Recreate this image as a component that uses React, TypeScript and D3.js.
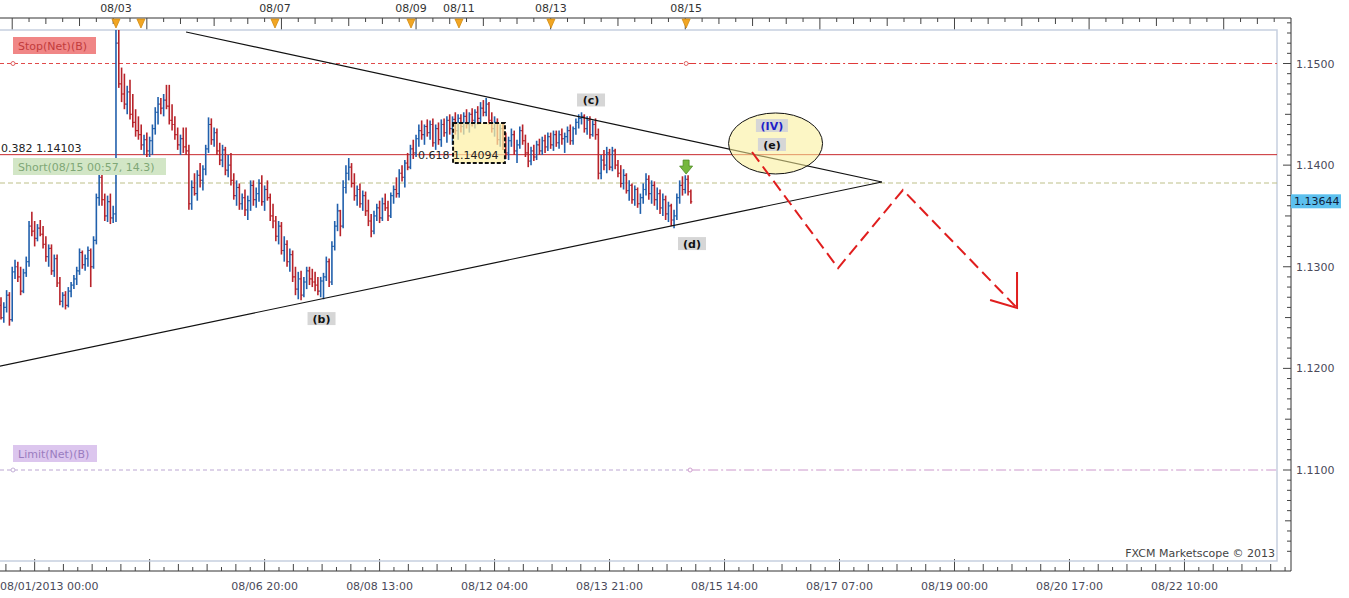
import React from 'react';
import * as d3 from 'd3';

// Prices are stored in pips above 1.1000 (e.g. 364 => 1.1364). One bar = one hour.
const opens = [
262,250,260,272,248,295,300,290,276,294,
305,340,335,328,338,332,322,310,318,296,
308,284,266,272,262,276,282,288,296,314,
302,308,316,300,326,368,388,366,350,364,
348,352,520,480,470,460,472,450,442,434,
430,420,425,414,424,436,452,460,456,464,
458,444,440,430,420,426,418,414,362,378,
372,390,385,396,416,440,425,432,414,405,
415,395,400,385,370,378,362,368,356,365,
380,366,372,382,364,376,368,350,345,330,
340,316,322,305,312,290,278,288,272,285,
296,288,285,282,276,286,290,305,285,320,
340,355,340,378,392,398,382,370,376,362,
370,355,345,335,350,358,348,362,358,350,
370,376,372,392,388,402,398,416,412,426,
434,430,438,432,440,422,436,425,440,432,
444,436,445,434,446,438,448,440,450,444,
452,446,456,452,460,444,436,442,425,436,
420,412,424,430,414,420,434,424,412,404,
414,408,420,414,424,418,428,420,430,422,
430,426,428,434,424,436,442,446,448,436,
444,430,440,430,392,405,400,412,398,414,
400,392,382,390,375,380,366,376,362,368,
376,386,372,380,366,372,358,366,352,360,
346,350,368,380,376,386,374];
const highs = [
270,265,277,275,300,307,305,300,298,310,
345,354,345,342,346,340,330,322,322,312,
312,290,275,276,280,285,292,300,318,316,
312,320,318,330,372,395,392,372,370,372,
360,533,533,496,490,478,484,470,455,448,
440,430,432,428,440,457,467,466,470,479,
479,460,448,437,430,437,437,420,385,392,
395,402,400,420,447,446,437,436,422,420,
418,410,412,392,385,382,372,376,370,385,
385,378,386,390,380,385,372,362,350,345,
344,330,326,318,316,300,295,296,290,300,
300,298,295,290,290,294,310,308,325,345,
362,356,385,400,407,402,392,380,382,375,
374,366,352,355,362,365,368,372,365,373,
380,388,396,400,405,412,420,425,430,440,
444,440,445,444,446,440,442,445,446,448,
450,448,452,450,450,452,455,452,456,455,
458,462,464,466,462,452,448,446,440,442,
432,428,436,434,425,438,440,430,422,418,
420,424,426,428,430,432,432,434,434,434,
436,432,438,440,438,446,450,452,450,448,
448,444,446,436,410,415,418,416,418,416,
405,400,396,392,385,382,380,378,372,382,
392,390,385,384,378,376,372,370,364,362,
356,372,385,389,390,390,376];
const lows = [
248,245,255,242,246,288,285,272,274,290,
300,330,320,325,330,318,305,300,292,290,
280,262,260,258,260,270,278,282,292,298,
296,300,280,298,322,360,360,345,344,342,
343,344,476,462,455,450,445,437,428,425,
415,410,408,408,410,430,440,450,448,455,
440,434,425,415,410,412,410,356,356,370,
365,378,375,390,412,420,418,410,400,398,
390,388,380,366,360,356,356,350,346,355,
360,358,364,360,355,365,345,338,325,322,
312,305,300,295,285,272,268,267,270,278,
282,280,276,272,270,268,286,280,282,316,
335,330,338,372,385,378,365,360,358,355,
350,340,329,332,345,343,345,355,345,348,
362,368,368,384,378,395,396,406,408,418,
425,420,428,425,418,415,420,418,428,422,
430,420,430,425,432,430,436,432,438,436,
440,442,448,448,440,432,428,420,418,415,
406,405,418,410,402,416,420,408,398,400,
404,405,410,410,412,414,416,414,418,416,
420,412,422,420,420,430,436,440,432,430,
426,428,425,386,386,395,392,395,394,396,
388,378,376,372,365,362,360,358,352,362,
370,366,362,360,356,352,350,346,344,340,
338,346,362,370,372,370,362];
const closes = [
250,260,272,248,295,300,290,276,294,305,
340,335,328,338,332,322,310,318,296,308,
284,266,272,262,276,282,288,296,314,302,
308,316,300,326,368,388,366,350,364,348,
352,520,480,470,460,472,450,442,434,430,
420,425,414,424,436,452,460,456,464,458,
444,440,430,420,426,418,414,362,378,372,
390,385,396,416,440,425,432,414,405,415,
395,400,385,370,378,362,368,356,365,380,
366,372,382,364,376,368,350,345,330,340,
316,322,305,312,290,278,288,272,285,296,
288,285,282,276,286,290,305,285,320,340,
355,340,378,392,398,382,370,376,362,370,
355,345,335,350,358,348,362,358,350,370,
376,372,392,388,402,398,416,412,426,434,
430,438,432,440,422,436,425,440,432,444,
436,445,434,446,438,448,440,450,444,452,
446,456,452,460,444,436,442,425,436,420,
412,424,430,414,420,434,424,412,404,414,
408,420,414,424,418,428,420,430,422,430,
426,428,434,424,436,442,446,448,436,444,
430,440,430,392,405,400,412,398,414,400,
392,382,390,375,380,366,376,362,368,376,
386,372,380,366,372,358,366,352,360,346,
350,368,380,376,386,374,364];

const lastPrice = 1.13644;

// Axis ticks / labels
const priceTicks = [1.11, 1.12, 1.13, 1.14, 1.15];
const bottomTickStart = 12;
const bottomTickStep = 41;
const bottomLabels = ['08/01/2013 00:00', '', '08/06 20:00', '08/08 13:00', '08/12 04:00', '08/13 21:00', '08/15 14:00', '08/17 07:00', '08/19 00:00', '08/20 17:00', '08/22 10:00'];
const eventIdx = [41, 49.9, 97.7, 146.2, 163.3, 196.1, 244.3];
const eventLabels = ['08/03', '', '08/07', '08/09', '08/11', '08/13', '08/15'];

// Levels
const stopLevel = 1.15;
const limitLevel = 1.11;
const fibLevel = 1.14103;
const shortLevel = 1.13824;

// Drawing tools (bar index, price)
const upperTrend = [[66, 1.1531], [314.1, 1.13834]];
const lowerTrend = [[-0.4, 1.12023], [314.1, 1.13834]];
const projection = [[267.8, 1.14129], [298.5, 1.12987], [321.6, 1.13755], [362.3, 1.12594]];
const arrowHead = [[362.3, 1.12948], [362.3, 1.12594], [352.7, 1.12672]];
const waveLabels = [
  { t: '(b)', i: 114.3, p: 1.12485, c: '#111' },
  { t: '(c)', i: 210.4, p: 1.14636, c: '#111' },
  { t: '(d)', i: 246.4, p: 1.13223, c: '#111' },
  { t: '(IV)', i: 274.9, p: 1.14385, c: '#1f1fc8' },
  { t: '(e)', i: 274.9, p: 1.14198, c: '#111' },
];
const ellipseCenter = [276.2, 1.14213];
const fibBox = [[161.2, 1.14414], [179.7, 1.14021]];
const fibText = { i: 148.7, p: 1.14094, t: '0.618 1.14094' };
const signalArrow = { i: 244.3, p: 1.13912 };

const FONT = 'DejaVu Sans, Verdana, sans-serif';
const BLUE = '#2160ac';
const RED = '#b8232a';

export default function App() {
  const x = d3.scaleLinear().domain([0, 455]).range([1, 1277]);
  const y = d3.scaleLinear().domain([1.11, 1.15]).range([470, 63.5]);
  const P = (v: number) => 1.1 + v / 10000;
  const n = Math.min(opens.length, highs.length, lows.length, closes.length);

  const plotL = 0, plotR = 1277, plotT = 30, plotB = 561;
  const axisX = 1291, topAxisY = 18, botAxisY = 571;

  const line = d3.line<number[]>().x(d => x(d[0])).y(d => y(d[1]));

  const topTicks: { v: number; len: number }[] = [];
  for (let k = 4; k <= 455; k += 6) {
    const len = (k - 4) % 48 === 0 ? 12 : (k - 4) % 24 === 0 ? 8 : (k - 4) % 12 === 0 ? 6 : 4;
    topTicks.push({ v: k, len });
  }
  const botTicks: { v: number; len: number }[] = [];
  for (let k = -1; k <= 11; k++) {
    for (let j = 0; j < 8; j++) {
      const v = bottomTickStart + k * bottomTickStep + (j * bottomTickStep) / 8;
      if (v < 0 || x(v) > axisX) continue;
      botTicks.push({ v, len: j === 0 ? 12 : j % 2 === 0 ? 7 : 4 });
    }
  }
  const rightTicks: { p: number; len: number }[] = [];
  for (let k = 1102; k <= 1154; k++) {
    rightTicks.push({ p: k / 1000, len: k % 10 === 0 ? 8 : k % 5 === 0 ? 6 : 4 });
  }

  const ecx = x(ellipseCenter[0]);
  const ecy = y(ellipseCenter[1]);
  const sx = x(signalArrow.i);
  const sy = y(signalArrow.p);

  return (
    <svg width={1349} height={598} style={{ position: 'absolute', left: 0, top: 0, background: '#fff' }} fontFamily={FONT} fontSize={11}>
      <rect x={0} y={0} width={1349} height={598} fill="#fff" />
      <defs>
        <clipPath id="plotclip">
          <rect x={plotL} y={plotT} width={plotR - plotL} height={plotB - plotT} />
        </clipPath>
      </defs>

      {/* Top axis */}
      <line x1={0} x2={axisX} y1={topAxisY} y2={topAxisY} stroke="#333" />
      {topTicks.map((t, i) => (
        <line key={'tt' + i} x1={x(t.v)} x2={x(t.v)} y1={topAxisY} y2={topAxisY + t.len} stroke="#444" />
      ))}
      {eventIdx.map((v, i) => (
        <g key={'ev' + i}>
          <path d={`M${x(v) - 4},${topAxisY + 1} L${x(v) + 4},${topAxisY + 1} L${x(v)},${topAxisY + 10} Z`} fill="#f2a623" stroke="#d08a10" strokeWidth={0.8} />
          {eventLabels[i] && (
            <text x={x(v)} y={12} textAnchor="middle" fill="#333">{eventLabels[i]}</text>
          )}
        </g>
      ))}

      {/* Right axis */}
      <line x1={axisX} x2={axisX} y1={topAxisY} y2={botAxisY} stroke="#333" />
      {rightTicks.map((t, i) => (
        <line key={'rt' + i} x1={axisX - t.len} x2={axisX} y1={y(t.p)} y2={y(t.p)} stroke="#444" />
      ))}
      {priceTicks.map((p, i) => (
        <text key={'pl' + i} x={axisX + 5} y={y(p) + 4} fill="#4a4a5a">{p.toFixed(4)}</text>
      ))}
      <rect x={axisX} y={y(lastPrice) - 7} width={50} height={14} fill="#5cc0ee" />
      <text x={axisX + 3} y={y(lastPrice) + 4} fill="#10203a">{lastPrice.toFixed(5)}</text>

      {/* Bottom axis */}
      <line x1={0} x2={axisX} y1={botAxisY} y2={botAxisY} stroke="#333" />
      {botTicks.map((t, i) => (
        <line key={'bt' + i} x1={x(t.v)} x2={x(t.v)} y1={botAxisY - t.len} y2={botAxisY} stroke="#444" />
      ))}
      {bottomLabels.map((l, k) => {
        if (!l) return null;
        const v = bottomTickStart + k * bottomTickStep;
        return k === 0 ? (
          <text key={'bl' + k} x={0} y={590} textAnchor="start" fill="#4a4a5a">{l}</text>
        ) : (
          <text key={'bl' + k} x={x(v)} y={590} textAnchor="middle" fill="#4a4a5a">{l}</text>
        );
      })}

      {/* Plot frame */}
      <rect x={plotL - 1} y={plotT} width={plotR - plotL + 1} height={plotB - plotT} fill="none" stroke="#c6cfdf" strokeWidth={1.5} />

      <g clipPath="url(#plotclip)">
        {/* Stop level */}
        <line x1={plotL} x2={x(eventIdx[6])} y1={y(stopLevel)} y2={y(stopLevel)} stroke="#e04a4a" strokeDasharray="4,3" />
        <line x1={x(eventIdx[6])} x2={plotR} y1={y(stopLevel)} y2={y(stopLevel)} stroke="#e03a3a" strokeDasharray="10,3,2,3" />
        <circle cx={13} cy={y(stopLevel)} r={2} fill="#fff" stroke="#e06464" />
        <circle cx={x(eventIdx[6])} cy={y(stopLevel)} r={2} fill="#fff" stroke="#e06464" />

        {/* Short entry level */}
        <line x1={plotL} x2={plotR} y1={y(shortLevel)} y2={y(shortLevel)} stroke="#bdbf88" strokeDasharray="5,3" />

        {/* Limit level */}
        <line x1={plotL} x2={x(eventIdx[6]) + 4} y1={y(limitLevel)} y2={y(limitLevel)} stroke="#bba6d2" strokeDasharray="4,3" />
        <line x1={x(eventIdx[6]) + 4} x2={plotR} y1={y(limitLevel)} y2={y(limitLevel)} stroke="#cc98cc" strokeDasharray="10,3,2,3" />
        <circle cx={13} cy={y(limitLevel)} r={2} fill="#fff" stroke="#c4b0d8" />
        <circle cx={x(eventIdx[6]) + 4} cy={y(limitLevel)} r={2} fill="#fff" stroke="#d0a0d0" />

        {/* Fib level line */}
        <line x1={plotL} x2={plotR} y1={y(fibLevel)} y2={y(fibLevel)} stroke="#c8282c" strokeWidth={1} />

        {/* OHLC bars */}
        {d3.range(n).map(i => {
          const up = closes[i] >= opens[i];
          const col = up ? BLUE : RED;
          const cx = x(i);
          return (
            <g key={'b' + i} stroke={col} strokeWidth={1.6}>
              <line x1={cx} x2={cx} y1={y(P(highs[i]))} y2={y(P(lows[i]))} />
              <line x1={cx - 1.4} x2={cx} y1={y(P(opens[i]))} y2={y(P(opens[i]))} strokeWidth={1.2} />
              <line x1={cx} x2={cx + 1.4} y1={y(P(closes[i]))} y2={y(P(closes[i]))} strokeWidth={1.2} />
            </g>
          );
        })}

        {/* Fib box */}
        <rect x={x(fibBox[0][0])} y={y(fibBox[0][1])} width={x(fibBox[1][0]) - x(fibBox[0][0])} height={y(fibBox[1][1]) - y(fibBox[0][1])}
          fill="rgba(253,240,165,0.72)" stroke="#111" strokeWidth={2} strokeDasharray="4,2" />
        <text x={x(fibText.i)} y={y(fibText.p) + 3} fill="#222">{fibText.t}</text>

        {/* Trend lines */}
        <path d={line(upperTrend) || ''} stroke="#111" strokeWidth={1.2} fill="none" />
        <path d={line(lowerTrend) || ''} stroke="#111" strokeWidth={1.2} fill="none" />

        {/* Ellipse */}
        <ellipse cx={ecx} cy={ecy} rx={47} ry={30.5} fill="rgba(250,238,150,0.55)" stroke="#111" strokeWidth={1} />

        {/* Projection */}
        <path d={line(projection) || ''} stroke="#e01e1e" strokeWidth={2} strokeDasharray="12,6" fill="none" />
        <path d={line(arrowHead) || ''} stroke="#e01e1e" strokeWidth={2} fill="none" />

        {/* Wave labels */}
        {waveLabels.map((w, i) => {
          const cx = x(w.i), cy = y(w.p);
          const wd = w.t.length > 3 ? 32 : 28;
          return (
            <g key={'w' + i}>
              <rect x={cx - wd / 2} y={cy - 7} width={wd} height={13} fill="#d6d6d6" />
              <text x={cx} y={cy + 4} textAnchor="middle" fontWeight="bold" fill={w.c}>{w.t}</text>
            </g>
          );
        })}

        {/* Signal arrow */}
        <path d={`M${sx - 3},${sy - 14} L${sx + 3},${sy - 14} L${sx + 3},${sy - 8} L${sx + 6.5},${sy - 8} L${sx},${sy} L${sx - 6.5},${sy - 8} L${sx - 3},${sy - 8} Z`}
          fill="#76b83e" stroke="#4f8a26" strokeWidth={0.8} />

        {/* Order labels */}
        <rect x={13} y={37} width={83} height={17} fill="#f08686" />
        <text x={18} y={50} fill="#c23c3c">Stop(Net)(B)</text>
        <text x={1} y={y(fibLevel) - 3} fill="#222">0.382 1.14103</text>
        <rect x={13} y={158} width={153} height={17} fill="#d2e6c6" />
        <text x={18} y={171} fill="#7fa776">Short(08/15 00:57, 14.3)</text>
        <rect x={13} y={445} width={84} height={17} fill="#dcc6ee" />
        <text x={18} y={458} fill="#9a7cc0">Limit(Net)(B)</text>

        <text x={1275} y={557} textAnchor="end" fill="#444">FXCM Marketscope © 2013</text>
      </g>
    </svg>
  );
}
